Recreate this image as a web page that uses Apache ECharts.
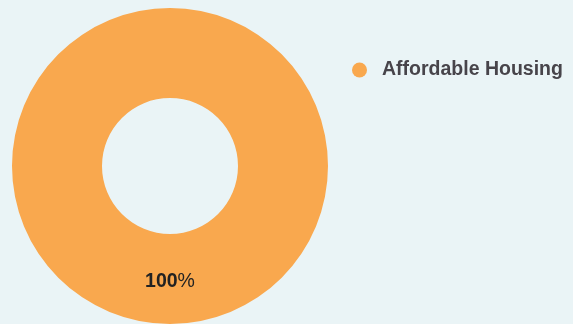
<!DOCTYPE html>
<html>
<head>
<meta charset="utf-8">
<style>
  html, body { margin: 0; padding: 0; background: #EAF4F6; }
  #chart { width: 573px; height: 324px; }
</style>
<script src="https://cdn.jsdelivr.net/npm/echarts@6/dist/echarts.min.js"></script>
</head>
<body>
<div id="chart"></div>
<script>
// Share of funding by category
const categories = ['Affordable Housing'];
const values = [100];
const colors = ['#F9A84E'];

const chart = echarts.init(document.getElementById('chart'), null, { renderer: 'canvas' });

chart.setOption({
  backgroundColor: '#EAF4F6',
  animation: false,
  color: colors,
  legend: {
    orient: 'vertical',
    left: 352,
    top: 60,
    padding: 0,
    icon: 'circle',
    itemWidth: 15,
    itemHeight: 15,
    itemGap: 12,
    textStyle: {
      fontFamily: '"Liberation Sans", Arial, sans-serif',
      fontWeight: 'bold',
      fontSize: 19.5,
      lineHeight: 19,
      color: '#47444A',
      padding: [0, 0, 0, 10]
    },
    data: categories
  },
  series: [{
    type: 'pie',
    center: [170, 166],
    radius: [68, 158],
    startAngle: 90,
    clockwise: true,
    avoidLabelOverlap: false,
    label: {
      show: true,
      position: 'inside',
      formatter: p => '{v|' + Math.round(p.percent) + '}{u|%}',
      rich: {
        v: { fontFamily: '"Liberation Sans", Arial, sans-serif', fontWeight: 'bold', fontSize: 19.5, color: '#222222' },
        u: { fontFamily: '"Liberation Sans", Arial, sans-serif', fontWeight: 'normal', fontSize: 19.5, color: '#222222' }
      }
    },
    labelLine: { show: false },
    emphasis: { disabled: true },
    itemStyle: { borderWidth: 0 },
    data: categories.map((name, i) => ({ name, value: values[i] }))
  }]
});
</script>
</body>
</html>
